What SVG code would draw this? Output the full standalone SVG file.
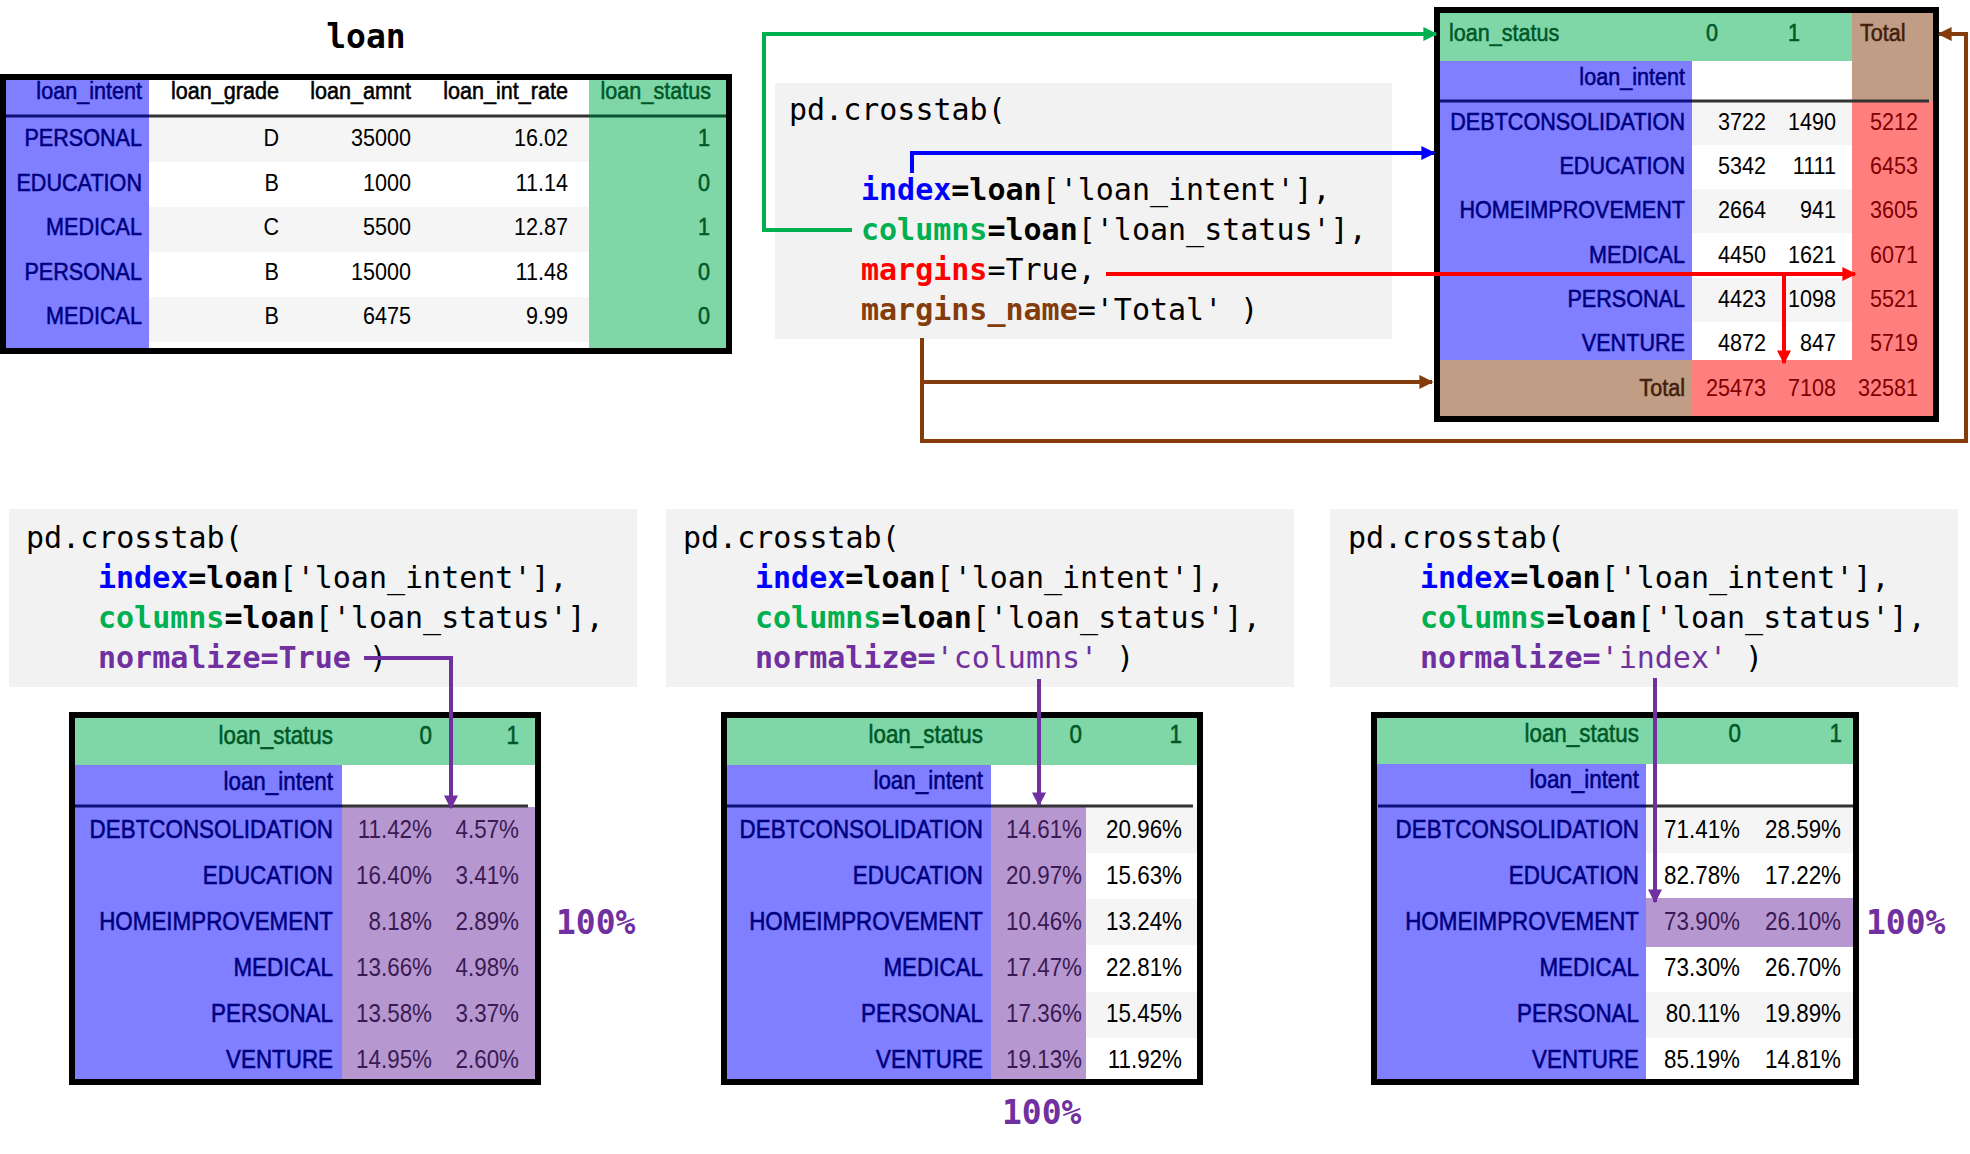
<svg xmlns="http://www.w3.org/2000/svg" width="1970" height="1154" viewBox="0 0 1970 1154">
<defs>
<style>
.t{font-family:"Liberation Sans",Arial,sans-serif;font-size:21.6px;fill:#000;transform-box:fill-box;transform-origin:0 81%;transform:scaleY(1.15)}
.L{font-size:22.4px}
.e{text-anchor:end}
.m{text-anchor:middle}
.tb{fill:#00007F;stroke:#00007F;stroke-width:0.5px}
.tg{fill:#005828;stroke:#005828;stroke-width:0.5px}
.tn{fill:#42200A;stroke:#42200A;stroke-width:0.5px}
.hk{stroke:#000;stroke-width:0.5px}
.tr{fill:#7F0000}.tp{fill:#3A1A55}
.c{font-family:"DejaVu Sans Mono",monospace;font-size:30px;fill:#000}
.b{font-weight:bold}
.big{font-family:"DejaVu Sans Mono",monospace;font-size:33px;font-weight:bold}
.frame{fill:none;stroke:#000;stroke-width:6}
.code{fill:#F2F2F2}
.gy{fill:#F5F5F5}
.bl{fill:#7F7FFF}.gr{fill:#7FD7A7}.rd{fill:#FF7F7F}.br{fill:#C19D85}.pu{fill:#B797CF}
.hl{stroke-width:3;fill:none}
.conn{fill:none;stroke-width:4}
</style>
<marker id="ag" viewBox="0 0 10 10" refX="9" refY="5" markerWidth="3.5" markerHeight="3.5" orient="auto" markerUnits="strokeWidth"><path d="M0,0L10,5L0,10z" fill="#00B050"/></marker>
<marker id="ab" viewBox="0 0 10 10" refX="9" refY="5" markerWidth="3.5" markerHeight="3.5" orient="auto" markerUnits="strokeWidth"><path d="M0,0L10,5L0,10z" fill="#0000FF"/></marker>
<marker id="ar" viewBox="0 0 10 10" refX="9" refY="5" markerWidth="3.5" markerHeight="3.5" orient="auto" markerUnits="strokeWidth"><path d="M0,0L10,5L0,10z" fill="#FF0000"/></marker>
<marker id="an" viewBox="0 0 10 10" refX="9" refY="5" markerWidth="3.5" markerHeight="3.5" orient="auto" markerUnits="strokeWidth"><path d="M0,0L10,5L0,10z" fill="#843C0C"/></marker>
<marker id="ap" viewBox="0 0 10 10" refX="9" refY="5" markerWidth="3.5" markerHeight="3.5" orient="auto" markerUnits="strokeWidth"><path d="M0,0L10,5L0,10z" fill="#7030A0"/></marker>
</defs>
<rect width="1970" height="1154" fill="#fff"/>

<g id="loan-table">
<text class="big" x="366" y="48" text-anchor="middle">loan</text>
<rect x="6" y="80" width="720" height="268" fill="#fff"/>
<rect class="gy" x="149" y="117" width="440" height="45"/>
<rect class="gy" x="149" y="207" width="440" height="45"/>
<rect class="gy" x="149" y="297" width="440" height="45"/>
<rect class="bl" x="6" y="80" width="143" height="268"/>
<rect class="gr" x="589" y="80" width="137" height="268"/>
<path class="hl" d="M6,116H149" stroke="#10107A"/>
<path class="hl" d="M149,116H589" stroke="#333"/>
<path class="hl" d="M589,116H726" stroke="#0B5530"/>
<rect class="frame" x="3" y="77" width="726" height="274"/>
<text class="t e tb" x="142" y="99">loan_intent</text>
<text class="t e hk" x="279" y="99">loan_grade</text>
<text class="t e hk" x="411" y="99">loan_amnt</text>
<text class="t e hk" x="568" y="99">loan_int_rate</text>
<text class="t e tg" x="711" y="99">loan_status</text>
<text class="t e tb" x="142" y="146">PERSONAL</text><text class="t e" x="279" y="146">D</text><text class="t e" x="411" y="146">35000</text><text class="t e" x="568" y="146">16.02</text><text class="t e tg" x="710" y="146">1</text>
<text class="t e tb" x="142" y="191">EDUCATION</text><text class="t e" x="279" y="191">B</text><text class="t e" x="411" y="191">1000</text><text class="t e" x="568" y="191">11.14</text><text class="t e tg" x="710" y="191">0</text>
<text class="t e tb" x="142" y="235">MEDICAL</text><text class="t e" x="279" y="235">C</text><text class="t e" x="411" y="235">5500</text><text class="t e" x="568" y="235">12.87</text><text class="t e tg" x="710" y="235">1</text>
<text class="t e tb" x="142" y="280">PERSONAL</text><text class="t e" x="279" y="280">B</text><text class="t e" x="411" y="280">15000</text><text class="t e" x="568" y="280">11.48</text><text class="t e tg" x="710" y="280">0</text>
<text class="t e tb" x="142" y="324">MEDICAL</text><text class="t e" x="279" y="324">B</text><text class="t e" x="411" y="324">6475</text><text class="t e" x="568" y="324">9.99</text><text class="t e tg" x="710" y="324">0</text>
</g>

<g id="code-margins">
<rect class="code" x="775" y="83" width="617" height="256"/>
<text class="c" x="789" y="120">pd.crosstab(</text>
<text class="c" x="861" y="200"><tspan class="b" fill="#0000FF">index</tspan><tspan class="b">=loan</tspan>['loan_intent'],</text>
<text class="c" x="861" y="240"><tspan class="b" fill="#00B050">columns</tspan><tspan class="b">=loan</tspan>['loan_status'],</text>
<text class="c" x="861" y="280"><tspan class="b" fill="#FF0000">margins</tspan>=True,</text>
<text class="c" x="861" y="320"><tspan class="b" fill="#843C0C">margins_name</tspan>='Total' )</text>
</g>

<g id="crosstab-margins">
<rect x="1440" y="13" width="493" height="403" fill="#fff"/>
<rect class="gy" x="1692" y="101" width="160" height="44"/>
<rect class="gy" x="1692" y="189" width="160" height="44"/>
<rect class="gy" x="1692" y="278" width="160" height="44"/>
<rect class="gr" x="1440" y="13" width="412" height="48"/>
<rect class="bl" x="1440" y="61" width="252" height="299"/>
<rect class="br" x="1852" y="13" width="81" height="88"/>
<rect class="br" x="1440" y="360" width="252" height="56"/>
<rect class="rd" x="1852" y="101" width="81" height="315"/>
<rect class="rd" x="1692" y="360" width="160" height="56"/>
<path class="hl" d="M1440,101H1692" stroke="#10107A"/>
<path class="hl" d="M1692,101H1929" stroke="#333"/>
<rect class="frame" x="1437" y="10" width="499" height="409"/>
<text class="t tg" x="1449" y="41">loan_status</text>
<text class="t m tg" x="1712" y="41">0</text>
<text class="t m tg" x="1794" y="41">1</text>
<text class="t tn" x="1860" y="41">Total</text>
<text class="t e tb" x="1685" y="85">loan_intent</text>
<text class="t e tb" x="1685" y="130">DEBTCONSOLIDATION</text><text class="t e" x="1766" y="130">3722</text><text class="t e" x="1836" y="130">1490</text><text class="t e tr" x="1918" y="130">5212</text>
<text class="t e tb" x="1685" y="174">EDUCATION</text><text class="t e" x="1766" y="174">5342</text><text class="t e" x="1836" y="174">1111</text><text class="t e tr" x="1918" y="174">6453</text>
<text class="t e tb" x="1685" y="218">HOMEIMPROVEMENT</text><text class="t e" x="1766" y="218">2664</text><text class="t e" x="1836" y="218">941</text><text class="t e tr" x="1918" y="218">3605</text>
<text class="t e tb" x="1685" y="263">MEDICAL</text><text class="t e" x="1766" y="263">4450</text><text class="t e" x="1836" y="263">1621</text><text class="t e tr" x="1918" y="263">6071</text>
<text class="t e tb" x="1685" y="307">PERSONAL</text><text class="t e" x="1766" y="307">4423</text><text class="t e" x="1836" y="307">1098</text><text class="t e tr" x="1918" y="307">5521</text>
<text class="t e tb" x="1685" y="351">VENTURE</text><text class="t e" x="1766" y="351">4872</text><text class="t e" x="1836" y="351">847</text><text class="t e tr" x="1918" y="351">5719</text>
<text class="t e tn" x="1685" y="396">Total</text><text class="t e tr" x="1766" y="396">25473</text><text class="t e tr" x="1836" y="396">7108</text><text class="t e tr" x="1918" y="396">32581</text>
</g>

<g id="code-true">
<rect class="code" x="9" y="509" width="628" height="178"/>
<text class="c" x="26" y="548">pd.crosstab(</text>
<text class="c" x="98" y="588"><tspan class="b" fill="#0000FF">index</tspan><tspan class="b">=loan</tspan>['loan_intent'],</text>
<text class="c" x="98" y="628"><tspan class="b" fill="#00B050">columns</tspan><tspan class="b">=loan</tspan>['loan_status'],</text>
<text class="c" x="98" y="668"><tspan class="b" fill="#7030A0">normalize=True</tspan> )</text>
</g>

<g id="table-true">
<rect x="75" y="718" width="460" height="361" fill="#fff"/>
<rect class="gr" x="75" y="718" width="460" height="47"/>
<rect class="bl" x="75" y="765" width="267" height="314"/>
<rect class="pu" x="342" y="807" width="193" height="272"/>
<path class="hl" d="M75,806H342" stroke="#10107A"/>
<path class="hl" d="M342,806H528" stroke="#333"/>
<rect class="frame" x="72" y="715" width="466" height="367"/>
<text class="t L e tg" x="333" y="744">loan_status</text>
<text class="t L e tg" x="432" y="744">0</text>
<text class="t L e tg" x="519" y="744">1</text>
<text class="t L e tb" x="333" y="790">loan_intent</text>
<text class="t L e tb" x="333" y="838">DEBTCONSOLIDATION</text><text class="t L e tp" x="432" y="838">11.42%</text><text class="t L e tp" x="519" y="838">4.57%</text>
<text class="t L e tb" x="333" y="884">EDUCATION</text><text class="t L e tp" x="432" y="884">16.40%</text><text class="t L e tp" x="519" y="884">3.41%</text>
<text class="t L e tb" x="333" y="930">HOMEIMPROVEMENT</text><text class="t L e tp" x="432" y="930">8.18%</text><text class="t L e tp" x="519" y="930">2.89%</text>
<text class="t L e tb" x="333" y="976">MEDICAL</text><text class="t L e tp" x="432" y="976">13.66%</text><text class="t L e tp" x="519" y="976">4.98%</text>
<text class="t L e tb" x="333" y="1022">PERSONAL</text><text class="t L e tp" x="432" y="1022">13.58%</text><text class="t L e tp" x="519" y="1022">3.37%</text>
<text class="t L e tb" x="333" y="1068">VENTURE</text><text class="t L e tp" x="432" y="1068">14.95%</text><text class="t L e tp" x="519" y="1068">2.60%</text>
<text class="big" x="556" y="934" fill="#7030A0">100%</text>
</g>

<g id="code-columns">
<rect class="code" x="666" y="509" width="628" height="178"/>
<text class="c" x="683" y="548">pd.crosstab(</text>
<text class="c" x="755" y="588"><tspan class="b" fill="#0000FF">index</tspan><tspan class="b">=loan</tspan>['loan_intent'],</text>
<text class="c" x="755" y="628"><tspan class="b" fill="#00B050">columns</tspan><tspan class="b">=loan</tspan>['loan_status'],</text>
<text class="c" x="755" y="668"><tspan class="b" fill="#7030A0">normalize=</tspan><tspan fill="#7030A0">'columns'</tspan> )</text>
</g>

<g id="table-columns">
<rect x="727" y="718" width="470" height="361" fill="#fff"/>
<rect class="gy" x="1086" y="807" width="111" height="46"/>
<rect class="gy" x="1086" y="899" width="111" height="46"/>
<rect class="gy" x="1086" y="992" width="111" height="46"/>
<rect class="gr" x="727" y="718" width="470" height="47"/>
<rect class="bl" x="727" y="765" width="264" height="314"/>
<rect class="pu" x="991" y="807" width="95" height="272"/>
<path class="hl" d="M727,806H991" stroke="#10107A"/>
<path class="hl" d="M991,806H1193" stroke="#333"/>
<rect class="frame" x="724" y="715" width="476" height="367"/>
<text class="t L e tg" x="983" y="743">loan_status</text>
<text class="t L e tg" x="1082" y="743">0</text>
<text class="t L e tg" x="1182" y="743">1</text>
<text class="t L e tb" x="983" y="789">loan_intent</text>
<text class="t L e tb" x="983" y="838">DEBTCONSOLIDATION</text><text class="t L e tp" x="1082" y="838">14.61%</text><text class="t L e" x="1182" y="838">20.96%</text>
<text class="t L e tb" x="983" y="884">EDUCATION</text><text class="t L e tp" x="1082" y="884">20.97%</text><text class="t L e" x="1182" y="884">15.63%</text>
<text class="t L e tb" x="983" y="930">HOMEIMPROVEMENT</text><text class="t L e tp" x="1082" y="930">10.46%</text><text class="t L e" x="1182" y="930">13.24%</text>
<text class="t L e tb" x="983" y="976">MEDICAL</text><text class="t L e tp" x="1082" y="976">17.47%</text><text class="t L e" x="1182" y="976">22.81%</text>
<text class="t L e tb" x="983" y="1022">PERSONAL</text><text class="t L e tp" x="1082" y="1022">17.36%</text><text class="t L e" x="1182" y="1022">15.45%</text>
<text class="t L e tb" x="983" y="1068">VENTURE</text><text class="t L e tp" x="1082" y="1068">19.13%</text><text class="t L e" x="1182" y="1068">11.92%</text>
<text class="big" x="1002" y="1124" fill="#7030A0">100%</text>
</g>

<g id="code-index">
<rect class="code" x="1330" y="509" width="628" height="178"/>
<text class="c" x="1348" y="548">pd.crosstab(</text>
<text class="c" x="1420" y="588"><tspan class="b" fill="#0000FF">index</tspan><tspan class="b">=loan</tspan>['loan_intent'],</text>
<text class="c" x="1420" y="628"><tspan class="b" fill="#00B050">columns</tspan><tspan class="b">=loan</tspan>['loan_status'],</text>
<text class="c" x="1420" y="668"><tspan class="b" fill="#7030A0">normalize=</tspan><tspan fill="#7030A0">'index'</tspan> )</text>
</g>

<g id="table-index">
<rect x="1377" y="718" width="476" height="361" fill="#fff"/>
<rect class="gy" x="1646" y="807" width="207" height="46"/>
<rect class="gy" x="1646" y="992" width="207" height="46"/>
<rect class="gr" x="1377" y="718" width="476" height="46"/>
<rect class="bl" x="1377" y="764" width="269" height="315"/>
<rect class="pu" x="1646" y="898" width="207" height="49"/>
<path class="hl" d="M1378,806H1646" stroke="#10107A"/>
<path class="hl" d="M1646,806H1853" stroke="#333"/>
<rect class="frame" x="1374" y="715" width="482" height="367"/>
<text class="t L e tg" x="1639" y="742">loan_status</text>
<text class="t L e tg" x="1741" y="742">0</text>
<text class="t L e tg" x="1842" y="742">1</text>
<text class="t L e tb" x="1639" y="788">loan_intent</text>
<text class="t L e tb" x="1639" y="838">DEBTCONSOLIDATION</text><text class="t L e" x="1740" y="838">71.41%</text><text class="t L e" x="1841" y="838">28.59%</text>
<text class="t L e tb" x="1639" y="884">EDUCATION</text><text class="t L e" x="1740" y="884">82.78%</text><text class="t L e" x="1841" y="884">17.22%</text>
<text class="t L e tb" x="1639" y="930">HOMEIMPROVEMENT</text><text class="t L e tp" x="1740" y="930">73.90%</text><text class="t L e tp" x="1841" y="930">26.10%</text>
<text class="t L e tb" x="1639" y="976">MEDICAL</text><text class="t L e" x="1740" y="976">73.30%</text><text class="t L e" x="1841" y="976">26.70%</text>
<text class="t L e tb" x="1639" y="1022">PERSONAL</text><text class="t L e" x="1740" y="1022">80.11%</text><text class="t L e" x="1841" y="1022">19.89%</text>
<text class="t L e tb" x="1639" y="1068">VENTURE</text><text class="t L e" x="1740" y="1068">85.19%</text><text class="t L e" x="1841" y="1068">14.81%</text>
<text class="big" x="1866" y="934" fill="#7030A0">100%</text>
</g>

<g id="connectors">
<path class="conn" d="M852,230H764V34H1436" stroke="#00B050" marker-end="url(#ag)"/>
<path class="conn" d="M912,173V153H1434" stroke="#0000FF" marker-end="url(#ab)"/>
<path class="conn" d="M1106,274H1855" stroke="#FF0000" marker-end="url(#ar)"/>
<path class="conn" d="M1784,274V363" stroke="#FF0000" marker-end="url(#ar)"/>
<path class="conn" d="M922,338V441H1966V34H1939" stroke="#843C0C" marker-end="url(#an)"/>
<path class="conn" d="M922,382H1432" stroke="#843C0C" marker-end="url(#an)"/>
<path class="conn" d="M364,658H451V808" stroke="#7030A0" marker-end="url(#ap)"/>
<path class="conn" d="M1039,679V805" stroke="#7030A0" marker-end="url(#ap)"/>
<path class="conn" d="M1655,678V902" stroke="#7030A0" marker-end="url(#ap)"/>
</g>
</svg>
